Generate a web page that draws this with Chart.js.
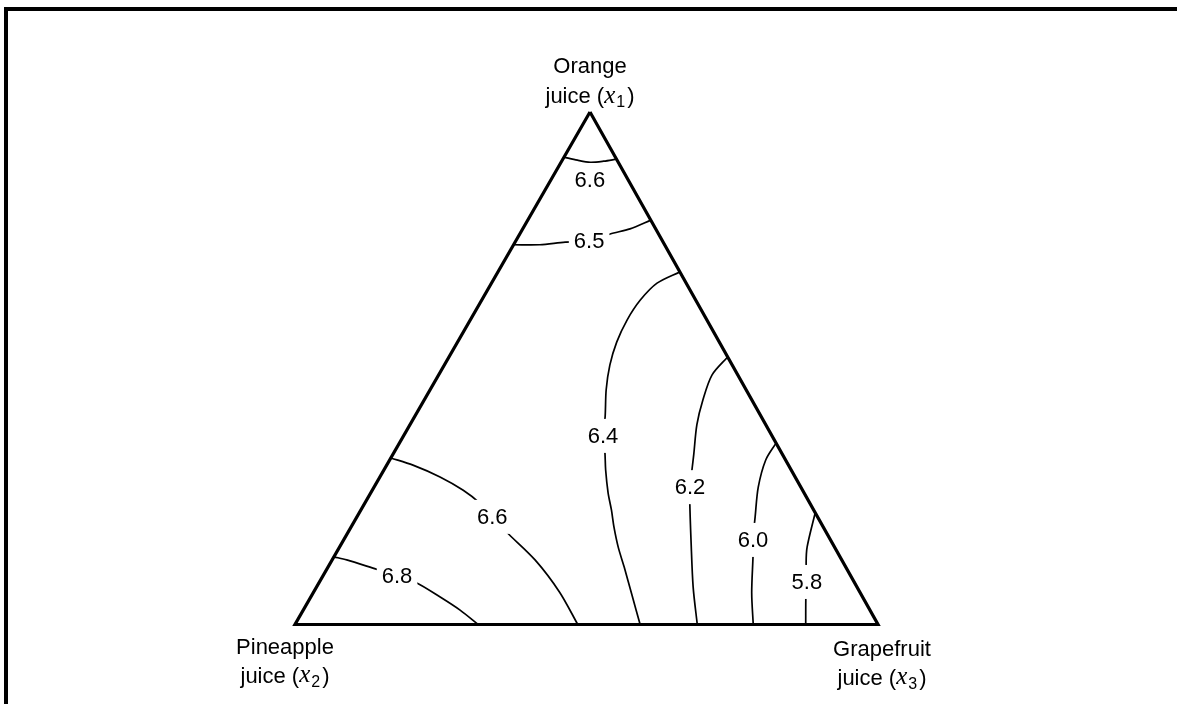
<!DOCTYPE html>
<html>
<head>
<meta charset="utf-8">
<title>Juice blend pH contours</title>
<script src="https://cdn.jsdelivr.net/npm/chart.js@4.4.1/dist/chart.umd.min.js"></script>
<style>
  html, body { margin: 0; padding: 0; background: #fff; }
  #wrap { position: relative; width: 1177px; height: 704px; overflow: hidden; }
  #frame { position: absolute; left: 4px; top: 7px; right: -10px; bottom: -10px;
           border-top: 4px solid #000; border-left: 4px solid #000; pointer-events: none; }
  canvas { position: absolute; left: 0; top: 0; }
</style>
</head>
<body>
<div id="wrap">
  <canvas id="chart" width="1177" height="704"></canvas>
  <div id="frame"></div>
</div>
<script>
// Mixture compositions are [x1 orange, x2 pineapple, x3 grapefruit], fractions summing to 1.
const vertices = [[1, 0, 0], [0, 1, 0], [0, 0, 1], [1, 0, 0]];

const contour66Top = [[0.912, 0.088, 0], [0.906, 0.068, 0.026], [0.902, 0.048, 0.050], [0.904, 0.024, 0.072], [0.908, 0, 0.092]];
const contour65 = [[0.741, 0.259, 0], [0.741, 0.214, 0.045], [0.746, 0.168, 0.086], [0.748, 0.126, 0.126], [0.762, 0.083, 0.155], [0.772, 0.044, 0.184], [0.789, 0, 0.211]];
const contour64 = [[0.688, 0, 0.312], [0.666, 0.050, 0.284], [0.633, 0.095, 0.272], [0.594, 0.137, 0.269], [0.551, 0.176, 0.273], [0.506, 0.210, 0.284], [0.458, 0.240, 0.302], [0.405, 0.268, 0.327], [0.368, 0.290, 0.342], [0.337, 0.302, 0.361], [0.302, 0.318, 0.380], [0.257, 0.336, 0.407], [0.223, 0.347, 0.430], [0.190, 0.359, 0.451], [0.151, 0.370, 0.478], [0.112, 0.380, 0.508], [0.056, 0.394, 0.550], [0, 0.408, 0.592]];
const contour62 = [[0.522, 0, 0.478], [0.487, 0.044, 0.469], [0.438, 0.084, 0.478], [0.390, 0.118, 0.492], [0.332, 0.152, 0.516], [0.268, 0.190, 0.542], [0.247, 0.201, 0.552], [0.159, 0.242, 0.599], [0.073, 0.281, 0.646], [0, 0.310, 0.690]];
const contour60 = [[0.354, 0, 0.646], [0.321, 0.034, 0.645], [0.268, 0.073, 0.659], [0.210, 0.107, 0.683], [0.165, 0.133, 0.702], [0.140, 0.145, 0.715], [0.062, 0.186, 0.752], [0, 0.214, 0.786]];
const contour58 = [[0.218, 0, 0.782], [0.151, 0.047, 0.802], [0.120, 0.064, 0.816], [0.083, 0.081, 0.836], [0.058, 0.095, 0.847], [0, 0.124, 0.876]];
const contour66Low = [[0.325, 0.675, 0], [0.311, 0.644, 0.045], [0.288, 0.609, 0.103], [0.262, 0.582, 0.156], [0.237, 0.566, 0.197], [0.210, 0.558, 0.232], [0.180, 0.548, 0.272], [0.126, 0.526, 0.348], [0.063, 0.515, 0.422], [0, 0.515, 0.485]];
const contour68 = [[0.132, 0.868, 0], [0.126, 0.849, 0.025], [0.110, 0.812, 0.078], [0.095, 0.778, 0.127], [0.081, 0.751, 0.168], [0.054, 0.725, 0.221], [0.028, 0.703, 0.269], [0, 0.686, 0.314]];

const contourSets = [contour66Top, contour65, contour64, contour62, contour60, contour58, contour66Low, contour68];

// Contour value labels and the compositions where they sit.
const labelTexts = ['6.6', '6.5', '6.4', '6.2', '6.0', '5.8', '6.6', '6.8'];
const labelPoints = [[0.867, 0.066, 0.067], [0.748, 0.126, 0.126], [0.368, 0.290, 0.342], [0.268, 0.190, 0.542], [0.165, 0.133, 0.702], [0.083, 0.081, 0.836], [0.210, 0.558, 0.232], [0.095, 0.778, 0.127]];
const labelOnLine = [false, true, true, true, true, true, true, true];

// Vertex captions: first line, then "juice (x_i)".
const vertexNames = ['Orange', 'Pineapple', 'Grapefruit'];
const vertexSubscripts = ['1', '2', '3'];

// Ternary projection: x1 is the apex, x2 bottom left, x3 bottom right.
const APEX_SHIFT = 0.506;
function project(c) {
  return { x: c[2] + APEX_SHIFT * c[0], y: c[0] };
}

const SANS = '"Liberation Sans", Arial, Helvetica, sans-serif';
const SERIF = '"Liberation Serif", "Times New Roman", serif';

const datasets = [{
  data: vertices.map(project),
  borderColor: '#000',
  borderWidth: 3.2,
  borderJoinStyle: 'miter',
  tension: 0,
  order: 0
}].concat(contourSets.map(set => ({
  data: set.map(project),
  borderColor: '#000',
  borderWidth: 1.7,
  tension: 0.3,
  order: 1
})));

const annotate = {
  id: 'annotate',
  afterDatasetsDraw(chart) {
    const ctx = chart.ctx;
    const sx = chart.scales.x, sy = chart.scales.y;
    const px = c => { const p = project(c); return [sx.getPixelForValue(p.x), sy.getPixelForValue(p.y)]; };
    ctx.save();
    ctx.textAlign = 'center';
    ctx.textBaseline = 'middle';
    ctx.font = '22px ' + SANS;
    labelTexts.forEach((t, i) => {
      const [x, y] = px(labelPoints[i]);
      const w = ctx.measureText(t).width;
      if (labelOnLine[i]) {
        ctx.fillStyle = '#fff';
        ctx.fillRect(x - w / 2 - 5, y - 17, w + 10, 34);
      }
      ctx.fillStyle = '#000';
      ctx.fillText(t, x, y + 1);
    });

    // Vertex captions
    const corners = [[1, 0, 0], [0, 1, 0], [0, 0, 1]].map(px);
    const offsets = [[0, -45, -15], [-10, 23, 52], [4, 25, 54]];
    corners.forEach((c, i) => {
      const cx = c[0] + offsets[i][0];
      const y1 = c[1] + offsets[i][1];
      const y2 = c[1] + offsets[i][2];
      ctx.font = '22px ' + SANS;
      ctx.textAlign = 'center';
      ctx.fillStyle = '#000';
      ctx.fillText(vertexNames[i], cx, y1);
      // second line: juice (x_i) with italic serif x and a subscript
      const partA = 'juice (';
      ctx.font = '22px ' + SANS;
      const wA = ctx.measureText(partA).width;
      ctx.font = 'italic 25px ' + SERIF;
      const wX = ctx.measureText('x').width;
      ctx.font = '16px ' + SANS;
      const wS = ctx.measureText(vertexSubscripts[i]).width;
      ctx.font = '22px ' + SANS;
      const wC = ctx.measureText(')').width;
      const total = wA + wX + 1 + wS + 2 + wC;
      let x = cx - total / 2;
      ctx.textAlign = 'left';
      ctx.font = '22px ' + SANS;
      ctx.fillText(partA, x, y2); x += wA;
      ctx.font = 'italic 25px ' + SERIF;
      ctx.fillText('x', x, y2 - 1); x += wX + 1;
      ctx.font = '16px ' + SANS;
      ctx.fillText(vertexSubscripts[i], x, y2 + 6); x += wS + 2;
      ctx.font = '22px ' + SANS;
      ctx.fillText(')', x, y2);
    });
    ctx.restore();
  }
};

new Chart(document.getElementById('chart'), {
  type: 'scatter',
  data: { datasets },
  options: {
    responsive: false,
    animation: false,
    events: [],
    layout: { padding: { left: 295, right: 299, top: 112, bottom: 79.5 } },
    elements: { point: { radius: 0 } },
    datasets: { scatter: { showLine: true, clip: false, pointRadius: 0 } },
    scales: {
      x: { type: 'linear', min: 0, max: 1, display: false },
      y: { type: 'linear', min: 0, max: 1, display: false }
    },
    plugins: { legend: { display: false }, tooltip: { enabled: false } }
  },
  plugins: [annotate]
});
</script>
</body>
</html>
